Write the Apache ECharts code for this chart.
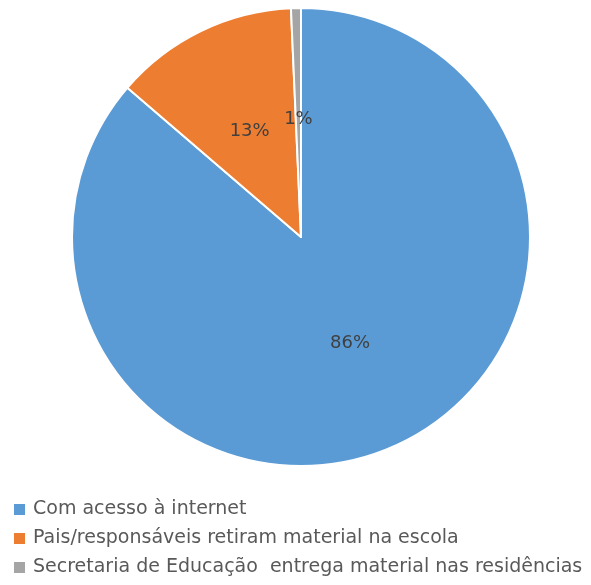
<!DOCTYPE html>
<html><head><meta charset="utf-8">
<script src="https://cdn.jsdelivr.net/npm/echarts@6/dist/echarts.min.js"></script>
<style>html,body{margin:0;padding:0;background:#fff}#c{width:591px;height:585px}</style>
</head><body><div id="c"></div>
<script>
const categories = ["Com acesso à internet", "Pais/responsáveis retiram material na escola", "Secretaria de Educação  entrega material nas residências"];
const values = [86.3, 13.0, 0.7];
const labels = ["86%", "13%", "1%"];
const colors = ["#5B9BD5", "#ED7D31", "#A5A5A5"];

const chart = echarts.init(document.getElementById('c'), null, {renderer: 'canvas'});
chart.setOption({
  animation: false,
  color: colors,
  legend: {
    orient: 'vertical', left: 14, top: 499, padding: 0, height: 86,
    icon: 'rect', itemWidth: 11, itemHeight: 11, itemGap: 8, itemStyle: {borderWidth: 0},
    textStyle: {fontFamily: 'DejaVu Sans', fontSize: 19, color: '#595959', lineHeight: 21, padding: [0, 0, 0, 3]},
    data: categories
  },
  series: [{
    type: 'pie', center: [301, 237], radius: 229, startAngle: 90, clockwise: true,
    itemStyle: {borderColor: '#fff', borderWidth: 2},
    label: {
      position: 'inside', fontFamily: 'DejaVu Sans', fontSize: 18, color: '#404040',
      formatter: p => labels[p.dataIndex]
    },
    labelLine: {show: false},
    data: categories.map((c, i) => ({name: c, value: values[i]}))
  }]
});
</script></body></html>
